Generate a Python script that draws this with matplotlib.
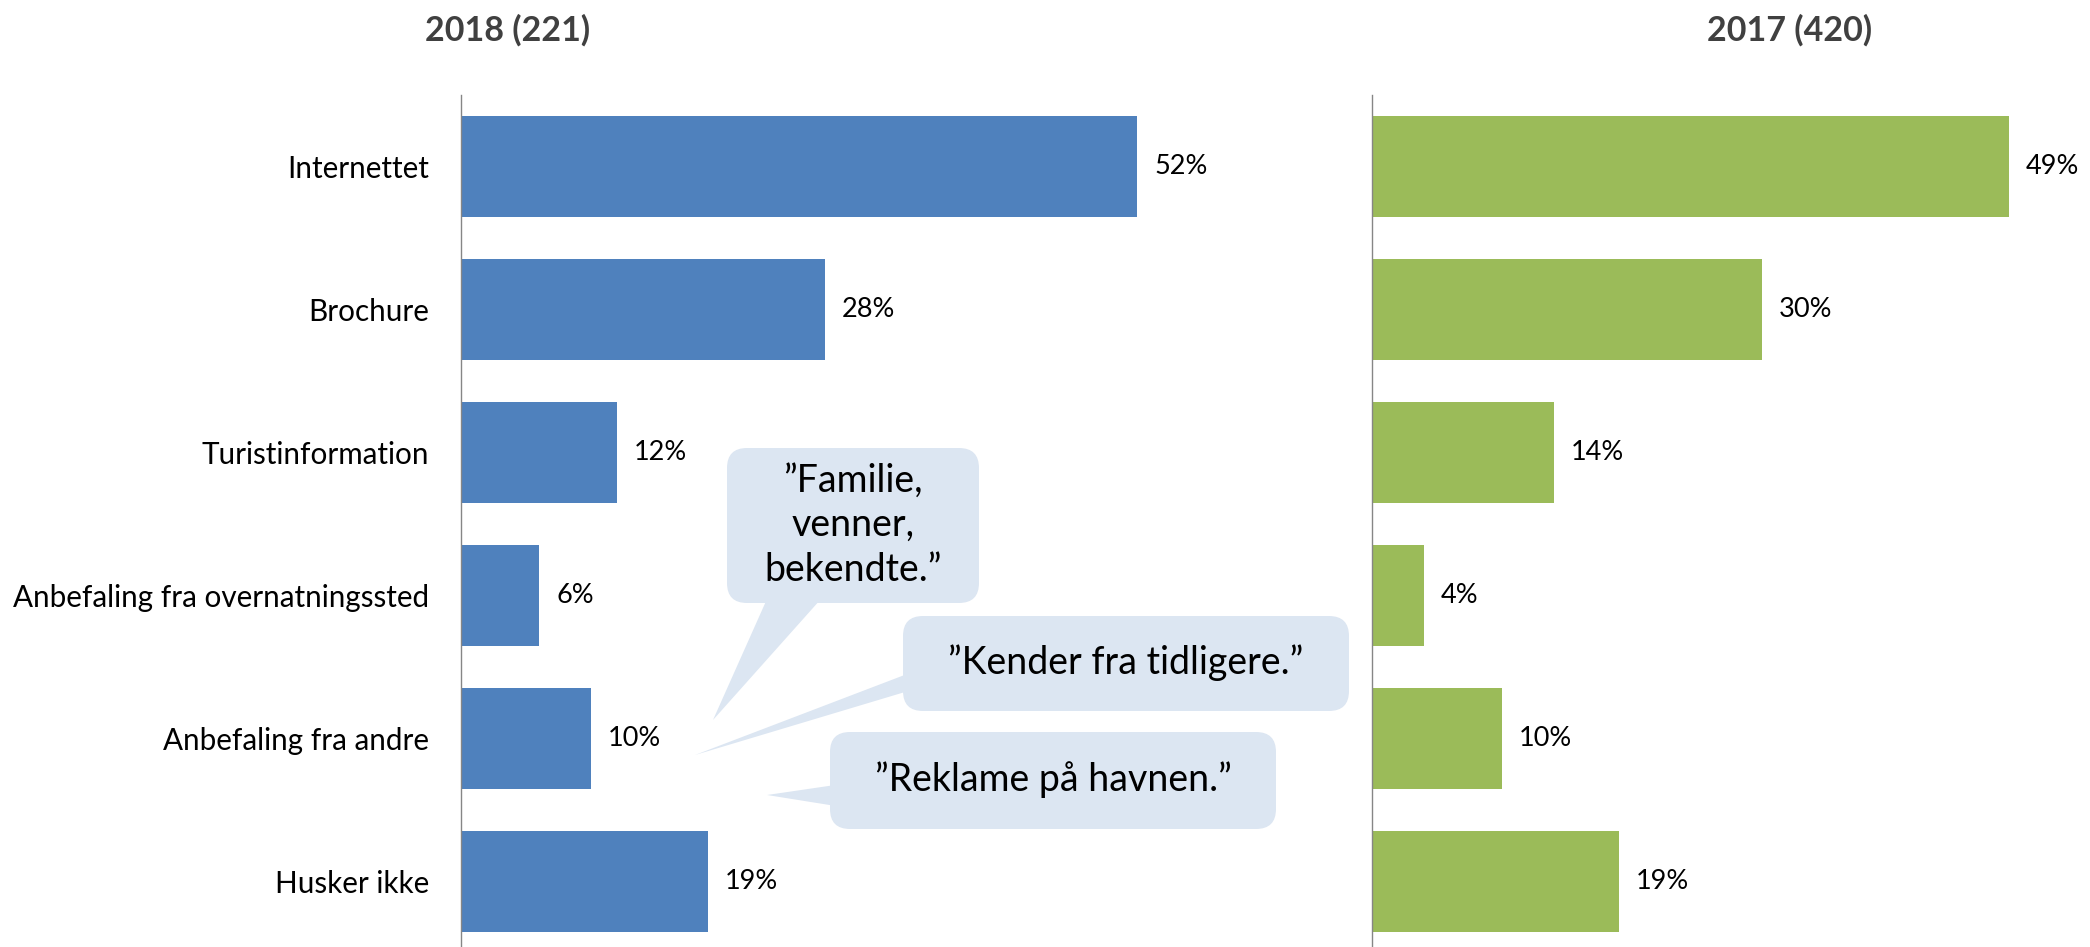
import matplotlib
matplotlib.use("Agg")
import matplotlib.pyplot as plt
from matplotlib.patches import FancyBboxPatch, Polygon

plt.rcParams['font.family'] = ['Lato', 'DejaVu Sans']

categories = ["Internettet", "Brochure", "Turistinformation",
              "Anbefaling fra overnatningssted", "Anbefaling fra andre", "Husker ikke"]
vals_2018 = [52, 28, 12, 6, 10, 19]
vals_2017 = [49, 30, 14, 4, 10, 19]
title_2018 = "2018 (221)"
title_2017 = "2017 (420)"
quotes = ["\u201dFamilie,\nvenner,\nbekendte.\u201d",
          "\u201dKender fra tidligere.\u201d",
          "\u201dReklame p\u00e5 havnen.\u201d"]

BLUE = "#4F81BD"
GREEN = "#9BBB59"
BUBBLE = "#DCE6F2"
W, H = 2090, 947
PX_PER_PCT = 13.0

fig = plt.figure(figsize=(W / 100, H / 100), dpi=100)


def px_axes(x0, x1, y0, y1):
    # pixel box (top-left origin) -> figure fraction
    return fig.add_axes([x0 / W, 1 - y1 / H, (x1 - x0) / W, (y1 - y0) / H])


def draw_panel(ax, vals, color, labels):
    y = list(range(len(vals)))
    ax.barh(y, vals, height=0.7, color=color)
    ax.set_ylim(len(vals) - 0.5, -0.5)
    for s in ["top", "right", "bottom"]:
        ax.spines[s].set_visible(False)
    ax.spines["left"].set_color("#868686")
    ax.spines["left"].set_linewidth(1)
    ax.set_xticks([])
    ax.set_yticks(y)
    if labels:
        ax.set_yticklabels(categories, fontsize=21.3)
    else:
        ax.set_yticklabels([])
    ax.tick_params(axis="y", length=0, pad=23)
    for i, v in enumerate(vals):
        ax.text(v + 17 / PX_PER_PCT, i, f"{v}%", va="center", ha="left", fontsize=19.5)


ax1 = px_axes(461, 1300, 95, 953)
ax1.set_xlim(0, (1300 - 461) / PX_PER_PCT)
draw_panel(ax1, vals_2018, BLUE, True)

ax2 = px_axes(1372, 2090, 95, 953)
ax2.set_xlim(0, (2090 - 1372) / PX_PER_PCT)
draw_panel(ax2, vals_2017, GREEN, False)

fig.text(508 / W, 1 - 30 / H, title_2018, ha="center", va="center",
         fontsize=24.5, fontweight="bold", color="#404040")
fig.text(1790 / W, 1 - 30 / H, title_2017, ha="center", va="center",
         fontsize=24.5, fontweight="bold", color="#404040")

# speech bubbles, drawn in pixel space on an overlay
ov = fig.add_axes([0, 0, 1, 1])
ov.set_xlim(0, W)
ov.set_ylim(H, 0)
ov.axis("off")

bubbles = [
    # box (x0, x1, y0, y1), tail polygon, text centre
    ((727, 979, 448, 603), [(771, 590), (829, 590), (713, 720)], (853, 525)),
    ((903, 1349, 616, 711), [(915, 671), (915, 689), (695, 755)], (1126, 663)),
    ((830, 1276, 732, 829), [(842, 784), (842, 807), (767, 795)], (1053, 780)),
]
for (box, tail, tc), q in zip(bubbles, quotes):
    x0, x1, y0, y1 = box
    ov.add_patch(FancyBboxPatch((x0 + 20, y0 + 20), x1 - x0 - 40, y1 - y0 - 40,
                                boxstyle="round,pad=20,rounding_size=20",
                                fc=BUBBLE, ec="none"))
    ov.add_patch(Polygon(tail, closed=True, fc=BUBBLE, ec="none"))
    ov.text(tc[0], tc[1], q, ha="center", va="center", fontsize=27,
            linespacing=1.3, color="black")

fig.savefig("out.png", dpi=100)
